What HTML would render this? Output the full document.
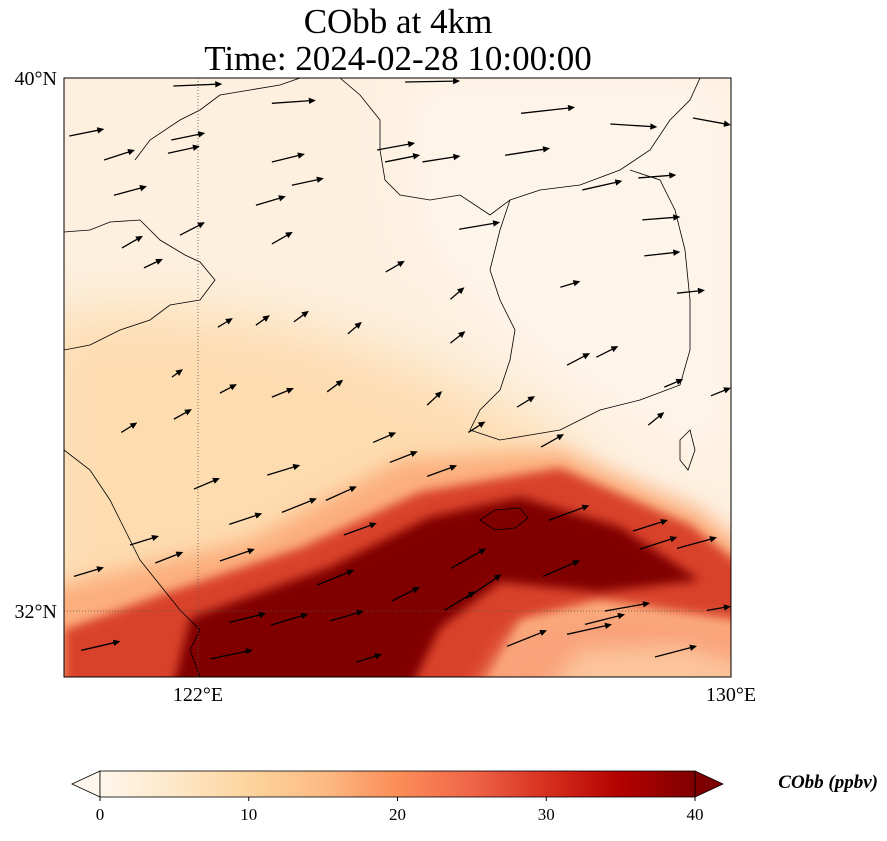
<!DOCTYPE html>
<html><head><meta charset="utf-8"><style>
html,body{margin:0;padding:0;background:#fff;}
body{width:887px;height:836px;overflow:hidden;font-family:"Liberation Serif",serif;}
</style></head><body>
<svg id="chart" width="887" height="836" viewBox="0 0 887 836" xmlns="http://www.w3.org/2000/svg">
<defs>
<clipPath id="mapclip"><rect x="64" y="78" width="667" height="599"/></clipPath>
<filter id="blur30" x="-20%" y="-20%" width="140%" height="140%"><feGaussianBlur stdDeviation="28"/></filter>
<filter id="blur12" x="-20%" y="-20%" width="140%" height="140%"><feGaussianBlur stdDeviation="10"/></filter>
<filter id="blur6" x="-20%" y="-20%" width="140%" height="140%"><feGaussianBlur stdDeviation="5"/></filter>
<linearGradient id="cbgrad" x1="0" x2="1" y1="0" y2="0">
<stop offset="0" stop-color="#fff7ec"/><stop offset="0.125" stop-color="#fee8c8"/><stop offset="0.25" stop-color="#fdd49e"/><stop offset="0.375" stop-color="#fdbb84"/><stop offset="0.5" stop-color="#fc8d59"/><stop offset="0.625" stop-color="#ef6548"/><stop offset="0.75" stop-color="#d7301f"/><stop offset="0.875" stop-color="#b30000"/><stop offset="1" stop-color="#7f0000"/>
</linearGradient>
</defs>
<text x="398" y="33" font-size="35" text-anchor="middle">CObb at 4km</text>
<text x="398" y="70" font-size="35" text-anchor="middle">Time: 2024-02-28 10:00:00</text>
<g clip-path="url(#mapclip)">
<rect x="64" y="78" width="667" height="599" fill="#fdf0df"/>
<path d="M400,78 L731,78 L731,470 L560,380 L420,250 Z" fill="#fef5ea" filter="url(#blur30)"/>
<path d="M40,320 C200,290 380,330 560,440 L600,520 L64,640 L40,640 Z" fill="#fddcb0" filter="url(#blur30)"/>
<path d="M40,590 L250,540 L400,460 L560,450 L700,510 L760,560 L760,700 L40,700 Z" fill="#fcae7d" filter="url(#blur12)"/>
<path d="M64,630 L160,595 L300,548 L420,492 L560,468 L690,525 L760,580 L760,625 L600,600 L520,620 L480,700 L64,700 Z" fill="#d9432b" filter="url(#blur6)"/>
<path d="M170,700 L190,618 L330,567 L430,517 L520,497 L620,527 L700,580 L600,592 L500,582 L440,628 L405,700 Z" fill="#800000" filter="url(#blur6)"/>
<path d="M470,700 L515,632 L600,612 L760,630 L760,700 Z" fill="#f9a27a" filter="url(#blur12)"/>
<path d="M540,700 L580,650 L680,645 L760,670 L760,700 Z" fill="#fcc59c" filter="url(#blur12)"/>
<g fill="none" stroke="#000" stroke-width="0.8">
<path d="M64,232 L90,230 L110,222 L140,220 L160,240 L185,255 L200,262 L215,280 L200,300 L170,305 L150,320 L120,330 L90,345 L64,350"/>
<path d="M135,160 L150,140 L180,120 L200,110 L220,95 L250,90 L280,85 L300,78"/>
<path d="M340,78 L360,95 L380,120 L380,150 L385,180 L400,195 L430,200 L460,195 L490,215 L510,200 L540,190 L580,185 L620,170 L650,150 L670,120 L690,100 L700,78"/>
<path d="M510,200 L500,230 L490,270 L500,300 L515,330 L510,360 L500,390 L480,410 L470,430 L500,440 L530,435 L560,430 L600,410 L640,400 L680,385 L690,350 L690,300 L685,250 L675,210 L660,180 L630,170"/>
<path d="M64,450 L90,470 L110,500 L125,530 L140,560 L160,585 L180,610 L200,630 L190,650 L200,677"/>
<path d="M480,520 L495,510 L520,508 L528,518 L515,528 L495,530 Z"/>
<path d="M680,440 L690,430 L695,450 L688,470 L680,460 Z"/>
</g>
<line x1="198" y1="78" x2="198" y2="677" stroke="#555" stroke-width="0.8" stroke-dasharray="1,2"/>
<line x1="64" y1="611" x2="731" y2="611" stroke="#555" stroke-width="0.8" stroke-dasharray="1,2"/>
<g id="arrows"></g>
</g>
<rect x="64" y="78" width="667" height="599" fill="none" stroke="#000" stroke-width="1"/>
<text x="57" y="85" font-size="20" text-anchor="end">40°N</text>
<text x="57" y="618" font-size="20" text-anchor="end">32°N</text>
<text x="198" y="701" font-size="20" text-anchor="middle">122°E</text>
<text x="731" y="701" font-size="20" text-anchor="middle">130°E</text>
<g>
<polygon points="100,771 100,797 72,784" fill="#fff7ec" stroke="#000" stroke-width="0.8"/>
<rect x="100" y="771" width="595" height="26" fill="url(#cbgrad)" stroke="#000" stroke-width="0.8"/>
<polygon points="695,771 695,797 723,784" fill="#7f0000" stroke="#000" stroke-width="0.8"/>
<g id="cbticks"></g>
<text x="878" y="788" font-size="19" font-weight="bold" font-style="italic" text-anchor="end">CObb (ppbv)</text>
</g>
</svg>
<script>
const arrowLon=[121.64,125.12,120.08,120.6,123.12,126.86,128.2,129.44,121.56,121.61,124.7,124.82,125.38,126.62,123.12,123.42,127.78,128.62,120.75,122.88,121.74,120.87,123.12,125.93,128.68,121.2,124.83,128.71,127.45,125.8,129.2,122.31,122.88,123.45,124.26,125.8,127.55,127.99,121.62,122.34,123.12,123.95,125.45,126.8,129.01,129.71,120.86,121.65,124.64,126.07,127.16,128.77,124.89,125.45,121.95,123.05,123.93,123.27,122.48,127.27,128.54,120.99,121.37,122.34,124.2,125.81,128.65,129.2,120.15,127.19,124.92,123.8,126.04,125.71,122.48,123.11,123.99,128.12,127.82,127.55,126.65,120.26,122.19,124.38,128.87,129.65];
const arrowLat=[39.88,39.94,39.13,38.77,39.62,39.47,39.31,39.4,38.87,39.07,38.92,38.74,38.74,38.84,38.74,38.39,38.32,38.5,38.24,38.09,37.64,37.45,37.51,37.73,37.87,37.15,37.09,37.33,36.86,36.68,36.77,36.26,36.29,36.34,36.16,36.02,35.69,35.81,35.51,35.27,35.21,35.29,35.09,35.06,35.36,35.23,34.68,34.88,34.53,34.68,34.46,34.79,34.23,34.02,33.83,34.04,33.66,33.48,33.3,33.36,33.2,32.99,32.72,32.75,33.14,32.64,32.93,32.94,32.52,32.52,32.15,32.39,32.19,32.01,31.83,31.79,31.85,32.0,31.8,31.65,31.47,31.41,31.28,31.23,31.31,32.01];
const arrowU=[24.5,27.5,17.5,15.5,22,27,23.5,19,16,17,19,17.5,19,22.5,16.5,16,20,19,16.5,15,12.5,10.5,10.5,20.5,19,9.5,9.5,18,10,7,14,7.5,7,7.5,7,7.5,11.5,11,5.5,8.5,11,8,7.5,9,9.5,10,8,9,11.5,8.5,11.5,8,14,15,13,16.5,15.5,17.5,16.5,20.5,17.5,14.5,14,17.5,16.5,17.5,18.5,20,15,18.5,14,18.5,17.5,15.5,18.5,18.5,17,22.5,20,22.5,20,19.5,21.5,13,21,12];
const arrowV=[1,0.5,3.5,5,1.5,3,-1.5,-3.5,3.5,3.5,3.5,3.5,3,3.5,4,3.5,4.5,1.5,4.5,4.5,6.5,6,6,3.5,1.5,4.5,5.5,2,3,6,1.5,4.5,5,5.5,6,6,6,5.5,4,4.5,4.5,6,7,5.5,4,4,5,5,5,5.5,6.5,6.5,5.5,5.5,5.5,5,7,7,5.5,7.5,5.5,4.5,5.5,6,6,10,6,5.5,4.5,8,7,7.5,12,9.5,4.5,5.5,5,4,5,5,8,4.5,4.5,4,5.5,2];
const cbTicks=[0,10,20,30,40];
const NS='http://www.w3.org/2000/svg';
const xOf=lon=>64+(lon-120)*66.625;
const yOf=lat=>78+(40-lat)*66.625;
const cbX=v=>100+v/40*595;
const arrowScale=2;
const g=document.getElementById('arrows');
for(let i=0;i<arrowLon.length;i++){
  const x1=xOf(arrowLon[i]),y1=yOf(arrowLat[i]);
  const dx=arrowU[i]*arrowScale,dy=-arrowV[i]*arrowScale;
  const len=Math.hypot(dx,dy),ux=dx/len,uy=dy/len;
  const x2=x1+dx,y2=y1+dy;
  const grp=document.createElementNS(NS,'g');
  
  
  const ln=document.createElementNS(NS,'line');
  ln.setAttribute('x1',x1);ln.setAttribute('y1',y1);
  ln.setAttribute('x2',x2-ux*5);ln.setAttribute('y2',y2-uy*5);
  ln.setAttribute('stroke','#000');ln.setAttribute('stroke-width','1.3');
  grp.appendChild(ln);
  const hx=x2-ux*7,hy=y2-uy*7,px=-uy*3.2,py=ux*3.2;
  const tri=document.createElementNS(NS,'polygon');
  tri.setAttribute('points',`${x2},${y2} ${hx+px},${hy+py} ${hx-px},${hy-py}`);
  tri.setAttribute('fill','#000');
  grp.appendChild(tri);
  g.appendChild(grp);
}
const cb=document.getElementById('cbticks');
cbTicks.forEach(v=>{
  const t=document.createElementNS(NS,'line');
  
  
  t.setAttribute('x1',cbX(v));t.setAttribute('x2',cbX(v));t.setAttribute('y1',797);t.setAttribute('y2',801);
  t.setAttribute('stroke','#000');
  cb.appendChild(t);
  const tx=document.createElementNS(NS,'text');
  
  
  tx.setAttribute('x',cbX(v));tx.setAttribute('y',820);
  tx.setAttribute('font-size','17');tx.setAttribute('text-anchor','middle');
  tx.textContent=v;
  cb.appendChild(tx);
});
</script>
</body></html>
